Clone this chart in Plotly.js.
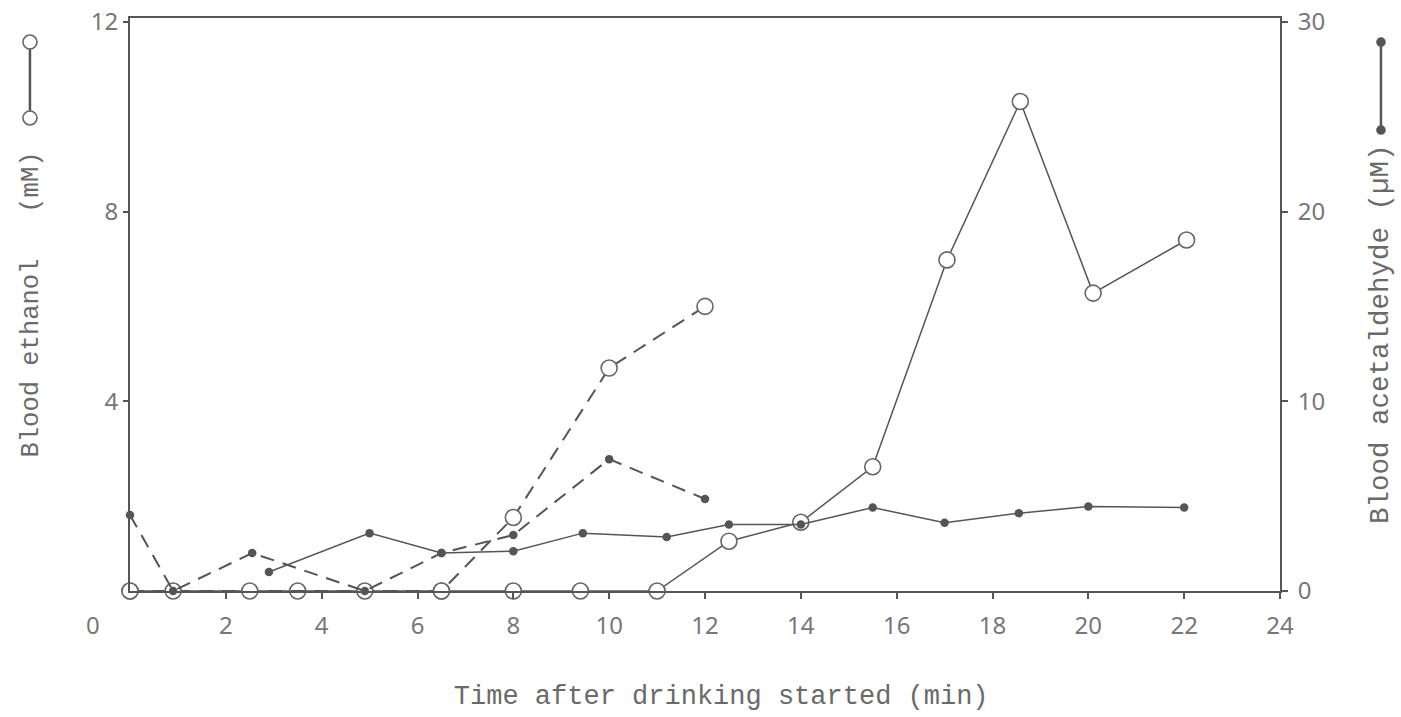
<!DOCTYPE html>
<html>
<head>
<meta charset="utf-8">
<script src="https://cdn.plot.ly/plotly-3.0.1.min.js"></script>
<style>html,body{margin:0;padding:0;background:#fff;}#chart{width:1401px;height:717px;}</style>
</head>
<body>
<div id="chart"></div>
<script>
// Blood ethanol (mM), open circles
const ethSolidX = [0, 3.5, 6.5, 8.0, 9.4, 11.0, 12.5, 14.0, 15.5, 17.05, 18.58, 20.1, 22.05];
const ethSolidY = [0, 0, 0, 0, 0, 0, 1.05, 1.45, 2.62, 6.98, 10.32, 6.28, 7.4];
const ethDashX = [0, 0.9, 2.5, 4.9, 6.5, 8.0, 10.0, 12.0];
const ethDashY = [0, 0, 0, 0, 0, 1.55, 4.7, 6.0];
// Blood acetaldehyde (µM), filled dots
const aldSolidX = [2.9, 5.0, 6.5, 8.0, 9.45, 11.2, 12.5, 14.0, 15.5, 17.0, 18.55, 20.0, 22.0];
const aldSolidY = [1.0, 3.05, 2.0, 2.1, 3.05, 2.85, 3.5, 3.5, 4.4, 3.6, 4.1, 4.45, 4.4];
const aldDashX = [0, 0.9, 2.55, 4.9, 6.5, 8.0, 10.0, 12.0];
const aldDashY = [4.0, 0, 2.0, 0, 2.0, 2.95, 6.95, 4.85];
// Tick labels
const xTicks = [2, 4, 6, 8, 10, 12, 14, 16, 18, 20, 22, 24];
const yLeftTicks = [4, 8, 12];
const yRightTicks = [0, 10, 20, 30];

const lineCol = '#555';
const openMarker = {symbol: 'circle', size: 16, color: '#fff', line: {color: '#666', width: 1.6}};
const dotMarker = {symbol: 'circle', size: 8.5, color: '#555', line: {width: 0}};

const traces = [
  {x: ethSolidX, y: ethSolidY, mode: 'lines+markers', line: {color: lineCol, width: 1.5}, marker: openMarker, cliponaxis: false, yaxis: 'y'},
  {x: ethDashX, y: ethDashY, mode: 'lines+markers', line: {color: lineCol, width: 2, dash: '14px,9px'}, marker: openMarker, cliponaxis: false, yaxis: 'y'},
  {x: aldSolidX, y: aldSolidY, mode: 'lines+markers', line: {color: lineCol, width: 1.5}, marker: dotMarker, cliponaxis: false, yaxis: 'y2'},
  {x: aldDashX, y: aldDashY, mode: 'lines+markers', line: {color: lineCol, width: 2, dash: '14px,9px'}, marker: dotMarker, cliponaxis: false, yaxis: 'y2'}
];

const tickFont = {family: 'Noto Sans, sans-serif', size: 24, color: '#777'};
const monoFam = 'Liberation Mono, DejaVu Sans Mono, monospace';

function iconCircle(xp, yp, r, fill, lc) {
  return {type: 'circle', xref: 'paper', yref: 'paper', xsizemode: 'pixel', ysizemode: 'pixel',
    xanchor: xp, yanchor: yp, x0: -r, x1: r, y0: -r, y1: r,
    fillcolor: fill, line: {color: lc, width: 1.6}};
}

const layout = {
  width: 1401, height: 717,
  margin: {l: 130, r: 121, t: 18, b: 126},
  paper_bgcolor: '#fff', plot_bgcolor: '#fff',
  showlegend: false,
  xaxis: {
    range: [0, 24], tickvals: xTicks, ticktext: xTicks.map(String),
    showgrid: false, zeroline: false, showline: true, linecolor: '#555', linewidth: 2, mirror: true,
    ticks: 'outside', ticklen: 6, tickwidth: 2, tickcolor: '#555', tickfont: tickFont, ticklabelstandoff: 6,
    title: {text: '\u200b\u00a0\u00a0Time after drinking started (min)', font: {family: monoFam, size: 27, color: '#6a6a6a'}, standoff: 45}
  },
  yaxis: {
    range: [0, 12.08], tickvals: yLeftTicks, ticktext: yLeftTicks.map(String),
    showgrid: false, zeroline: false, showline: true, linecolor: '#555', linewidth: 2,
    ticks: 'outside', ticklen: 5, tickwidth: 2, tickcolor: '#555', tickfont: tickFont,
    title: {text: 'Blood ethanol\u00a0\u00a0\u00a0(mM)', font: {family: monoFam, size: 25.5, color: '#6a6a6a'}, standoff: 45}
  },
  yaxis2: {
    overlaying: 'y', side: 'right', range: [0, 30.2], tickvals: yRightTicks, ticktext: yRightTicks.map(String),
    showgrid: false, zeroline: false, showline: true, linecolor: '#555', linewidth: 2,
    ticks: 'outside', ticklen: 6, tickwidth: 2, tickcolor: '#555', tickfont: tickFont, ticklabelstandoff: 5
  },
  annotations: [
    {xref: 'paper', yref: 'paper', x: -0.032, y: -0.059, text: '0', showarrow: false, font: tickFont, xanchor: 'center', yanchor: 'middle'},
    {xref: 'paper', yref: 'paper', x: 1.087, y: 0.4485, text: 'Blood acetaldehyde (\u00b5M)', textangle: -90, showarrow: false,
      font: {family: monoFam, size: 27.5, color: '#6a6a6a'}, xanchor: 'center', yanchor: 'middle'}
  ],
  shapes: [
    {type: 'line', xref: 'paper', yref: 'paper', x0: -0.087, x1: -0.087, y0: 0.8255, y1: 0.958, line: {color: '#555', width: 2.5}},
    iconCircle(-0.087, 0.958, 7, '#fff', '#666'),
    iconCircle(-0.087, 0.8255, 7, '#fff', '#666'),
    {type: 'line', xref: 'paper', yref: 'paper', x0: 1.0878, x1: 1.0878, y0: 0.8045, y1: 0.958, line: {color: '#555', width: 2.5}},
    iconCircle(1.0878, 0.958, 4, '#555', '#555'),
    iconCircle(1.0878, 0.8045, 4, '#555', '#555')
  ]
};

Plotly.newPlot('chart', traces, layout, {displayModeBar: false, staticPlot: true});
</script>
</body>
</html>
